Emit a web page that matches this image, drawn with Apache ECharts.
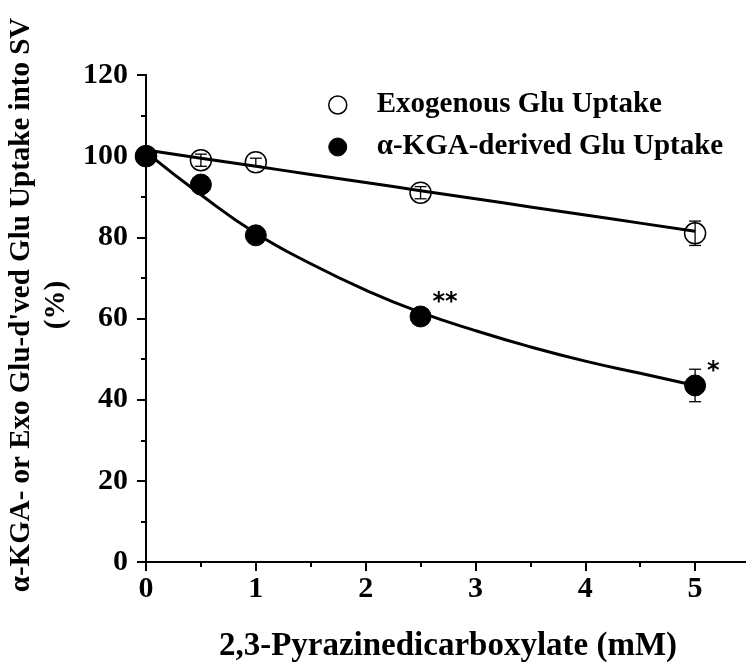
<!DOCTYPE html>
<html>
<head>
<meta charset="utf-8">
<script src="https://cdn.jsdelivr.net/npm/echarts@6/dist/echarts.min.js"></script>
<style>
  html, body { margin: 0; padding: 0; background: #fff; }
  #chart { width: 746px; height: 664px; }
</style>
</head>
<body>
<div id="chart"></div>
<script>
// measured points
const doses = [0, 0.5, 1, 2.5, 5];
const exoUptake = [100, 99, 98.5, 91, 81];
const exoErr = [0.5, 1.5, 1, 1.5, 3];
const kgaUptake = [100, 93, 80.5, 60.5, 43.5];
const kgaErr = [0.5, 1, 1, 1, 4];
const kgaStars = ['', '', '', '**', '*'];

// fitted curves
const fitDoses = [0, 0.5, 1, 1.5, 2, 2.5, 3, 3.5, 4, 4.5, 5];
const exoFit = [101.5, 99.5, 97.5, 95.5, 93.5, 91.5, 89.5, 87.5, 85.5, 83.5, 81.5];
const kgaFit = [101, 90.5, 81, 73.5, 67, 61.5, 57, 53, 49.5, 46.5, 43.5];

const yTitle = "α-KGA- or Exo Glu-d'ved Glu Uptake into SV";
const yUnit = '(%)';

const serif = '"Liberation Serif", "DejaVu Serif", serif';

function pairs(xs, ys) {
    return xs.map((x, i) => [x, ys[i]]);
}

// error bar with caps
function errorBars(vals, errs) {
    return {
        type: 'custom',
        silent: true,
        z: 5,
        data: doses.map((x, i) => [x, vals[i] - errs[i], vals[i] + errs[i]]),
        renderItem: (params, api) => {
            const lo = api.coord([api.value(0), api.value(1)]);
            const hi = api.coord([api.value(0), api.value(2)]);
            const w = 6;
            const st = { stroke: '#000', lineWidth: 1.3 };
            return {
                type: 'group',
                children: [
                    { type: 'line', shape: { x1: lo[0], y1: lo[1], x2: hi[0], y2: hi[1] }, style: st },
                    { type: 'line', shape: { x1: lo[0] - w, y1: lo[1], x2: lo[0] + w, y2: lo[1] }, style: st },
                    { type: 'line', shape: { x1: hi[0] - w, y1: hi[1], x2: hi[0] + w, y2: hi[1] }, style: st }
                ]
            };
        }
    };
}

const tick = { color: '#000', width: 2 };

const chart = echarts.init(document.getElementById('chart'));
chart.setOption({
    animation: false,
    grid: { left: 146, top: 75, width: 604, height: 487, containLabel: false, outerBoundsMode: 'none' },
    graphic: [
        {
            type: 'text', x: 22, y: 305, rotation: Math.PI / 2,
            style: { text: yTitle, fontFamily: serif, fontWeight: 'bold', fontSize: 29, fill: '#000',
                align: 'center', verticalAlign: 'middle' }
        },
        {
            type: 'text', x: 57, y: 305, rotation: Math.PI / 2,
            style: { text: yUnit, fontFamily: serif, fontWeight: 'bold', fontSize: 29, fill: '#000',
                align: 'center', verticalAlign: 'middle' }
        }
    ],
    legend: {
        orient: 'vertical',
        left: 323,
        top: 85,
        itemGap: 12,
        itemWidth: 18,
        itemHeight: 18,
        textStyle: { fontFamily: serif, fontWeight: 'bold', fontSize: 29, lineHeight: 30, color: '#000', padding: [0, 0, 0, 25] },
        data: [
            { name: 'Exogenous Glu Uptake', icon: 'circle', itemStyle: { color: '#fff', borderColor: '#000', borderWidth: 1.5, opacity: 1 } },
            { name: 'α-KGA-derived Glu Uptake', icon: 'circle', itemStyle: { color: '#000', borderColor: '#000', borderWidth: 1, opacity: 1 } }
        ]
    },
    xAxis: [{
        type: 'value',
        min: 0,
        max: 5.5,
        interval: 1,
        name: '2,3-Pyrazinedicarboxylate (mM)',
        nameLocation: 'middle',
        nameGap: 68,
        nameTextStyle: { fontFamily: serif, fontWeight: 'bold', fontSize: 33, color: '#000' },
        axisLine: { onZero: false, lineStyle: tick },
        axisTick: { length: 9, lineStyle: tick },
        minorTick: { show: true, splitNumber: 2, length: 5, lineStyle: tick },
        axisLabel: { margin: 12, fontFamily: serif, fontWeight: 'bold', fontSize: 30, color: '#000',
            formatter: v => (v > 5 ? '' : v) },
        splitLine: { show: false }
    }, {
        type: 'value',
        position: 'top',
        min: 0,
        max: 5.5,
        interval: 1,
        axisLine: { lineStyle: tick },
        axisTick: { inside: true, length: 9, lineStyle: tick },
        minorTick: { show: true, splitNumber: 2, length: 5, lineStyle: tick },
        axisLabel: { show: false },
        splitLine: { show: false }
    }],
    yAxis: [{
        type: 'value',
        min: 0,
        max: 120,
        interval: 20,
        axisLine: { lineStyle: tick },
        axisTick: { length: 9, lineStyle: tick },
        minorTick: { show: true, splitNumber: 2, length: 5, lineStyle: tick },
        axisLabel: { margin: 18, fontFamily: serif, fontWeight: 'bold', fontSize: 30, color: '#000' },
        splitLine: { show: false }
    }, {
        type: 'value',
        position: 'right',
        min: 0,
        max: 120,
        interval: 20,
        axisLine: { lineStyle: tick },
        axisTick: { inside: true, length: 9, lineStyle: tick },
        minorTick: { show: true, splitNumber: 2, length: 5, lineStyle: tick },
        axisLabel: { show: false },
        splitLine: { show: false }
    }],
    series: [
        {
            type: 'line',
            smooth: true,
            showSymbol: false,
            silent: true,
            data: pairs(fitDoses, exoFit),
            lineStyle: { color: '#000', width: 3 },
            z: 2
        },
        {
            type: 'line',
            smooth: true,
            showSymbol: false,
            silent: true,
            data: pairs(fitDoses, kgaFit),
            lineStyle: { color: '#000', width: 3 },
            z: 2
        },
        {
            name: 'Exogenous Glu Uptake',
            type: 'scatter',
            symbol: 'circle',
            symbolSize: 21,
            data: pairs(doses, exoUptake),
            itemStyle: { color: 'rgba(255,255,255,0)', borderColor: '#000', borderWidth: 1.5, opacity: 1 },
            z: 4
        },
        {
            name: 'α-KGA-derived Glu Uptake',
            type: 'scatter',
            symbol: 'circle',
            symbolSize: 21,
            data: pairs(doses, kgaUptake),
            itemStyle: { color: '#000', borderColor: '#000', borderWidth: 1, opacity: 1 },
            label: {
                show: true,
                position: 'right',
                offset: [-4, -14],
                fontFamily: '"DejaVu Sans", sans-serif',
                fontWeight: 'bold',
                fontSize: 24,
                color: '#000',
                formatter: p => kgaStars[p.dataIndex]
            },
            z: 4
        },
        errorBars(exoUptake, exoErr),
        errorBars(kgaUptake, kgaErr)
    ]
});
</script>
</body>
</html>
